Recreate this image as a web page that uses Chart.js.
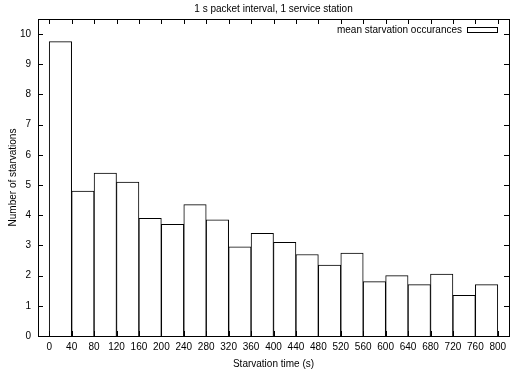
<!DOCTYPE html>
<html>
<head>
<meta charset="utf-8">
<script src="https://cdn.jsdelivr.net/npm/chart.js@4/dist/chart.umd.min.js"></script>
<style>
  html, body { margin: 0; padding: 0; background: #fff; }
  #wrap { width: 519px; height: 370px; }
</style>
</head>
<body>
<div id="wrap"><canvas id="histChart" width="519" height="370"></canvas></div>
<script>
// bin centres (s), bin width 40 s
const binCenters = [20, 60, 100, 140, 180, 220, 260, 300, 340, 380, 420, 460, 500, 540, 580, 620, 660, 700, 740, 780];
const starvations = [9.75, 4.8, 5.4, 5.1, 3.9, 3.7, 4.35, 3.85, 2.95, 3.4, 3.1, 2.7, 2.35, 2.75, 1.8, 2.0, 1.7, 2.05, 1.35, 1.7];
const xTicks = [0, 40, 80, 120, 160, 200, 240, 280, 320, 360, 400, 440, 480, 520, 560, 600, 640, 680, 720, 760, 800];
const yTicks = [0, 1, 2, 3, 4, 5, 6, 7, 8, 9, 10];

const FONT = "'Liberation Sans', Arial, Helvetica, sans-serif";
Chart.defaults.font.family = FONT;
Chart.defaults.font.size = 10;
Chart.defaults.color = "#000";

// gnuplot style: inward ticks mirrored on all four sides, plus title and key
const gnuplotDecor = {
    id: "gnuplotDecor",
    afterDatasetsDraw(chart) {
        const { ctx, chartArea: a, scales } = chart;
        ctx.save();
        ctx.strokeStyle = "#000";
        ctx.lineWidth = 1;
        ctx.beginPath();
        xTicks.forEach(v => {
            const x = Math.round(scales.x.getPixelForValue(v)) + 0.5;
            ctx.moveTo(x, a.bottom); ctx.lineTo(x, a.bottom - 5);
            ctx.moveTo(x, a.top); ctx.lineTo(x, a.top + 5);
        });
        yTicks.forEach(v => {
            const y = Math.round(scales.y.getPixelForValue(v)) + 0.5;
            ctx.moveTo(a.left, y); ctx.lineTo(a.left + 5, y);
            ctx.moveTo(a.right, y); ctx.lineTo(a.right - 5, y);
        });
        ctx.stroke();
        ctx.strokeRect(Math.round(a.left) + 0.5, Math.round(a.top) + 0.5,
            Math.round(a.right - a.left), Math.round(a.bottom - a.top));

        // title
        ctx.fillStyle = "#000";
        ctx.font = "10px " + FONT;
        ctx.textAlign = "center";
        ctx.textBaseline = "middle";
        ctx.fillText("1 s packet interval, 1 service station", (a.left + a.right) / 2, 9);

        // key
        ctx.textAlign = "right";
        ctx.fillText("mean starvation occurances", a.right - 47, a.top + 11);
        ctx.fillStyle = "#fff";
        ctx.fillRect(a.right - 42, a.top + 9, 30, 5);
        ctx.strokeRect(a.right - 41.5, a.top + 8.5, 30, 5);
        ctx.restore();
    }
};

new Chart(document.getElementById("histChart"), {
    type: "bar",
    data: {
        datasets: [{
            label: "mean starvation occurances",
            data: binCenters.map((x, i) => ({ x: x, y: starvations[i] })),
            backgroundColor: "#fff",
            borderColor: "#000",
            borderWidth: 1,
            barPercentage: 1,
            categoryPercentage: 1
        }]
    },
    options: {
        responsive: false,
        animation: false,
        devicePixelRatio: 1,
        layout: { padding: { top: 19, right: 10, left: 0, bottom: 0 } },
        plugins: {
            legend: { display: false },
            title: { display: false },
            tooltip: { enabled: false }
        },
        scales: {
            x: {
                type: "linear",
                min: 0,
                max: 800,
                afterBuildTicks: s => { s.ticks = xTicks.map(v => ({ value: v })); },
                afterFit: s => { s.height = 34; },
                grid: { display: false, drawTicks: false },
                border: { display: false },
                ticks: { padding: 5, maxRotation: 0, autoSkip: false, font: { size: 10 } },
                title: { display: true, text: "Starvation time (s)", padding: { top: 2, bottom: 0 }, font: { size: 10 } }
            },
            y: {
                min: 0,
                max: 10.5,
                afterBuildTicks: s => { s.ticks = yTicks.map(v => ({ value: v })); },
                afterFit: s => { s.width = 38; },
                grid: { display: false, drawTicks: false },
                border: { display: false },
                ticks: { padding: 7, font: { size: 10 } },
                title: { display: true, text: "Number of starvations", padding: { top: 7, bottom: 0 }, font: { size: 10 } }
            }
        }
    },
    plugins: [gnuplotDecor]
});
</script>
</body>
</html>
